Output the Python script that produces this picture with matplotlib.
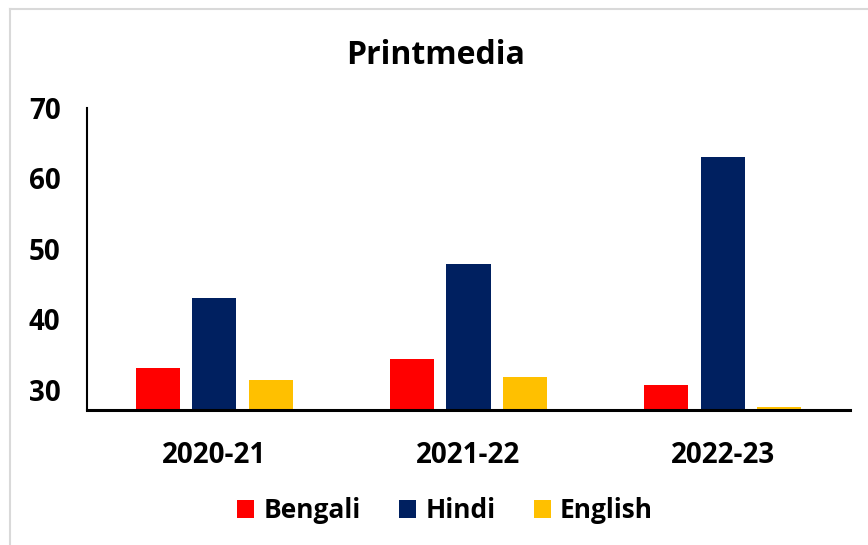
import matplotlib
matplotlib.use("Agg")
import matplotlib.pyplot as plt
from matplotlib.lines import Line2D
import numpy as np

categories = ["2020-21", "2021-22", "2022-23"]
series_names = ["Bengali", "Hindi", "English"]
bengali = [33.0, 34.3, 30.6]
hindi = [43.0, 47.8, 63.1]
english = [31.3, 31.8, 27.5]
colors = ["#FF0000", "#002060", "#FFC000"]
yticks = [30, 40, 50, 60, 70]

plt.rcParams["font.family"] = ["Open Sans", "DejaVu Sans"]
plt.rcParams["font.weight"] = "bold"

fig = plt.figure(figsize=(8.68, 5.45), dpi=100)
ax = fig.add_axes([87/868, 1 - 410/545, (850-87)/868, (410-108)/545])

x = np.arange(len(categories))
width = 0.174
step = 0.222
ymin = 27.1
for i, (vals, name, c) in enumerate(zip([bengali, hindi, english], series_names, colors)):
    ax.bar(x + (i - 1) * step, np.array(vals) - ymin, width, bottom=ymin, color=c, label=name)

ax.set_xlim(-0.5, 2.5)
ax.set_ylim(ymin, 70)
ax.set_yticks(yticks)
ax.set_xticks(x)
ax.set_xticklabels(categories)
ax.tick_params(axis="both", length=0, labelsize=20)
ax.tick_params(axis="y", pad=19)
ax.tick_params(axis="x", pad=22)
for lbl in ax.get_xticklabels() + ax.get_yticklabels():
    lbl.set_fontweight("bold")
ax.spines["top"].set_visible(False)
ax.spines["right"].set_visible(False)
ax.spines["left"].set_linewidth(1.5)
ax.spines["bottom"].set_linewidth(2.2)

fig.text(436/868, 1 - 55/545, "Printmedia", ha="center", va="center", fontsize=23, fontweight="bold")

leg = fig.legend(loc="center", bbox_to_anchor=(445/868, 1 - 511/545), ncol=3, frameon=False,
                 prop={"size": 19, "weight": "bold"}, handlelength=0.65, handleheight=0.65,
                 handletextpad=0.35, columnspacing=1.45)

fig.add_artist(Line2D([10/868, 10/868], [0, 1 - 9/545], color="#d9d9d9", lw=1.5, transform=fig.transFigure))
fig.add_artist(Line2D([10/868, 1], [1 - 9/545, 1 - 9/545], color="#d9d9d9", lw=1.5, transform=fig.transFigure))

fig.savefig("out.png", dpi=100)
